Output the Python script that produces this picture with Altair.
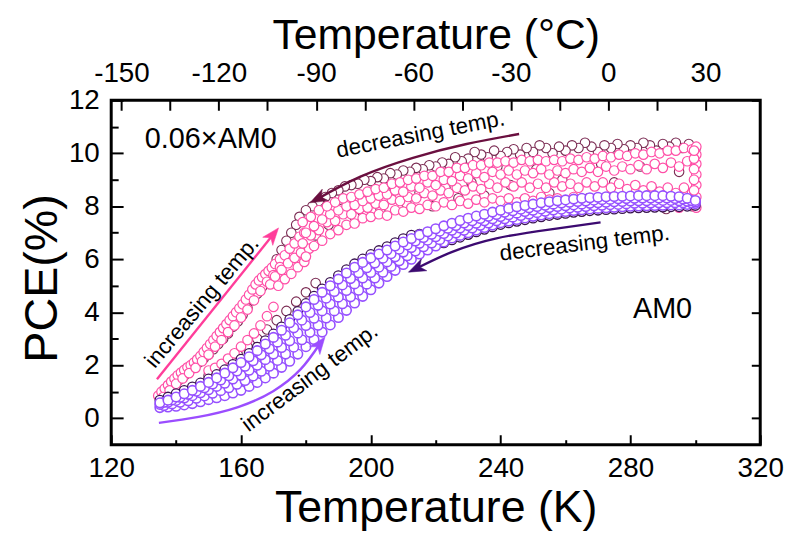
import altair as alt
import pandas as pd

# ---------------- data ----------------
# AM0 sweep (temperature grid, K)
AM0_T = [135.0, 137.5, 140.0, 142.5, 145.0, 147.5, 150.0, 152.5, 155.0, 157.5,
         160.0, 162.5, 165.0, 167.5, 170.0, 172.5, 175.0, 177.5, 180.0, 182.5,
         185.0, 187.5, 190.0, 192.5, 195.0, 197.5, 200.0, 202.5, 205.0, 207.5,
         210.0, 212.5, 215.0, 217.5, 220.0, 222.5, 225.0, 227.5, 230.0, 232.5,
         235.0, 237.5, 240.0, 242.5, 245.0, 247.5, 250.0, 252.5, 255.0, 257.5,
         260.0, 262.5, 265.0, 267.5, 270.0, 272.5, 275.0, 277.5, 280.0, 282.5,
         285.0, 287.5, 290.0, 292.5, 295.0, 297.5, 300.0]
AM0_T2 = [136.25, 138.75, 141.25, 143.75, 146.25, 148.75, 151.25, 153.75, 156.25, 158.75,
          161.25, 163.75, 166.25, 168.75, 171.25, 173.75, 176.25, 178.75, 181.25, 183.75,
          186.25, 188.75, 191.25, 193.75, 196.25, 198.75, 201.25, 203.75, 206.25, 208.75,
          211.25, 213.75, 216.25, 218.75, 221.25, 223.75, 226.25, 228.75, 231.25, 233.75,
          236.25, 238.75, 241.25, 243.75, 246.25, 248.75, 251.25, 253.75, 256.25, 258.75,
          261.25, 263.75, 266.25, 268.75, 271.25, 273.75, 276.25, 278.75, 281.25, 283.75,
          286.25, 288.75, 291.25, 293.75, 296.25, 298.75]
# AM0, increasing temperature (violet) - several passes
AM0_inc_a = [0.40, 0.42, 0.45, 0.50, 0.55, 0.62, 0.70, 0.77, 0.85, 0.95, 1.05, 1.20, 1.35, 1.52,
             1.70, 1.92, 2.15, 2.42, 2.70, 2.97, 3.25, 3.52, 3.80, 4.07, 4.35, 4.60, 4.85, 5.10,
             5.35, 5.58, 5.80, 6.00, 6.20, 6.35, 6.50, 6.65, 6.80, 6.90, 7.00, 7.10, 7.20, 7.29,
             7.38, 7.44, 7.50, 7.56, 7.62, 7.67, 7.72, 7.76, 7.80, 7.84, 7.87, 7.90, 7.92, 7.94,
             7.96, 7.98, 8.00, 8.01, 8.02, 8.03, 8.04, 8.05, 8.05, 8.07, 8.10]
AM0_inc_b = [0.52, 0.60, 0.67, 0.76, 0.85, 0.96, 1.07, 1.20, 1.32, 1.48, 1.62, 1.81, 2.00, 2.21,
             2.42, 2.67, 2.92, 3.21, 3.50, 3.77, 4.05, 4.31, 4.57, 4.82, 5.07, 5.29, 5.50, 5.70,
             5.90, 6.09, 6.27, 6.44, 6.60, 6.72, 6.85, 6.97, 7.09, 7.18, 7.27, 7.36, 7.45, 7.53,
             7.61, 7.68, 7.74, 7.80, 7.85, 7.90, 7.95, 7.99, 8.02, 8.05, 8.08, 8.11, 8.13, 8.15,
             8.17, 8.18, 8.20, 8.21, 8.21, 8.22, 8.22, 8.22, 8.21, 8.19, 8.16]
AM0_inc_c = [0.58, 0.68, 0.80, 0.92, 1.05, 1.20, 1.35, 1.52, 1.70, 1.90, 2.10, 2.32, 2.55, 2.80,
             3.05, 3.32, 3.60, 3.90, 4.20, 4.48, 4.75, 5.00, 5.25, 5.48, 5.70, 5.88, 6.05, 6.20,
             6.35, 6.50, 6.65, 6.78, 6.92, 7.04, 7.15, 7.26, 7.36, 7.46, 7.55, 7.63, 7.70, 7.78,
             7.85, 7.92, 7.98, 8.03, 8.08, 8.13, 8.17, 8.21, 8.24, 8.27, 8.30, 8.32, 8.34, 8.36,
             8.37, 8.38, 8.39, 8.40, 8.40, 8.40, 8.40, 8.38, 8.36, 8.30, 8.22]
AM0_inc_d = [0.48, 0.54, 0.60, 0.66, 0.75, 0.84, 0.94, 1.04, 1.15, 1.28, 1.42, 1.59, 1.77, 1.96,
             2.18, 2.42, 2.68, 2.96, 3.24, 3.51, 3.78, 4.05, 4.32, 4.58, 4.83, 5.06, 5.29, 5.51,
             5.73, 5.94, 6.13, 6.31, 6.47, 6.61, 6.74, 6.88, 6.99, 7.09, 7.18, 7.28, 7.37, 7.45,
             7.53, 7.59, 7.65, 7.71, 7.76, 7.81, 7.86, 7.89, 7.93, 7.96, 7.99, 8.02, 8.04, 8.06,
             8.07, 8.09, 8.11, 8.11, 8.12, 8.13, 8.13, 8.13, 8.13, 8.13]
AM0_inc_e = [0.60, 0.69, 0.79, 0.90, 1.02, 1.15, 1.29, 1.44, 1.60, 1.78, 1.96, 2.17, 2.39, 2.62,
             2.87, 3.13, 3.41, 3.70, 3.99, 4.26, 4.53, 4.78, 5.03, 5.27, 5.49, 5.68, 5.86, 6.04,
             6.21, 6.38, 6.54, 6.69, 6.82, 6.94, 7.06, 7.17, 7.27, 7.37, 7.45, 7.54, 7.62, 7.69,
             7.77, 7.83, 7.89, 7.94, 7.99, 8.04, 8.08, 8.12, 8.15, 8.18, 8.20, 8.23, 8.25, 8.26,
             8.28, 8.29, 8.30, 8.31, 8.31, 8.31, 8.31, 8.29, 8.27, 8.22]
# AM0, decreasing temperature (dark)
AM0_dec = [0.68, 0.80, 0.93, 1.05, 1.18, 1.33, 1.48, 1.65, 1.83, 2.03, 2.23, 2.45, 2.68, 2.93,
           3.18, 3.45, 3.73, 4.03, 4.33, 4.61, 4.88, 5.13, 5.38, 5.61, 5.83, 6.01, 6.18, 6.33,
           6.48, 6.63, 6.78, 6.91, 6.95, 6.80, 6.62, 6.62, 6.73, 6.83, 6.93, 7.03, 7.13, 7.22,
           7.31, 7.37, 7.43, 7.49, 7.55, 7.60, 7.65, 7.69, 7.73, 7.77, 7.80, 7.83, 7.85, 7.87,
           7.89, 7.91, 7.93, 7.94, 7.95, 7.96, 7.97, 7.98, 7.98, 8.00, 8.03]

# 0.06xAM0, decreasing temperature (maroon)
DEC06_T1 = [300, 298, 296, 294, 292, 290, 288, 286, 284, 282, 280, 278, 276, 274, 272, 270,
            268, 266, 264, 262, 260, 258, 256, 254, 252, 250, 248, 246, 244, 242, 240, 238,
            236, 234, 232, 230, 228, 226, 224, 222, 220, 218, 216, 214, 212, 210, 208, 206,
            204, 202, 200, 198, 196, 194, 192, 190, 188, 186, 184, 182, 180, 178]
DEC06_P1 = [10.15, 10.35, 10.2, 10.4, 10.25, 10.35, 10.1, 10.3, 10.4, 10.2, 10.3, 10.15, 10.35,
            10.2, 10.3, 10.05, 10.25, 10.4, 10.2, 10.3, 10.1, 10.25, 10.0, 10.2, 10.3, 10.05,
            10.2, 9.95, 10.15, 10.05, 9.9, 10.1, 9.85, 9.95, 10.05, 9.8, 9.7, 9.85, 9.6, 9.65,
            9.5, 9.55, 9.4, 9.45, 9.3, 9.35, 9.2, 9.25, 9.05, 9.1, 8.95, 9.0, 8.85, 8.8, 8.75,
            8.6, 8.5, 8.35, 8.2, 8.0, 7.85, 7.6]
DEC06_T2 = [177, 175.5, 174, 172.5, 171, 169.5, 168, 166.5, 165, 163.5, 162, 160.5, 159, 157.5,
            156, 154.5, 153, 151.5, 150, 148.5, 147, 145.5, 144, 142.5, 141, 139.5, 138, 136.5, 135]
DEC06_P2 = [7.3, 7.0, 6.7, 6.35, 6.0, 5.6, 5.25, 4.95, 4.7, 4.45, 4.15, 3.9, 3.65, 3.45, 3.2, 3.0,
            2.8, 2.6, 2.4, 2.25, 2.1, 1.9, 1.75, 1.6, 1.45, 1.3, 1.15, 1.0, 0.85]
DEC06_T3 = [299, 295, 291, 287, 283, 279, 275, 271, 267, 263, 259, 255, 251, 247, 243, 239, 235,
            231, 227, 223, 219, 215, 211, 207, 203, 199, 195, 191, 187, 183]
DEC06_P3 = [8.0, 9.3, 7.9, 8.6, 9.5, 8.1, 8.9, 9.6, 8.3, 8.0, 9.0, 8.5, 9.4, 8.2, 8.8, 9.5, 8.4,
            8.9, 8.3, 8.7, 8.0, 8.5, 8.1, 8.6, 7.9, 8.2, 7.6, 7.9, 7.3, 6.9]
DEC06_T4 = [150, 153, 156, 159, 162, 165, 168, 171, 174, 177, 180, 183]
DEC06_P4 = [1.6, 1.85, 2.1, 2.4, 2.7, 3.0, 3.35, 3.7, 4.05, 4.4, 4.75, 5.1]

# 0.06xAM0, increasing temperature (pink)
INC06_T1 = [134.5, 135.5, 136.5, 137.5, 138.5, 139.5, 140.5, 141.5, 142.5, 143.5, 144.5, 145.5,
            146.5, 147.5, 148.5, 149.5, 150.5, 151.5, 152.5, 153.5, 154.5, 155.5, 156.5, 157.5,
            158.5, 159.5, 160.5, 161.5, 162.5, 163.5, 164.5, 165.5, 166.5, 167.5, 168.5, 169.5,
            170.5, 172.0, 173.5, 175.0, 176.5, 178.0, 179.5]
INC06_P1 = [0.85, 1.0, 1.12, 1.25, 1.38, 1.5, 1.62, 1.72, 1.82, 1.92, 2.0, 2.1, 2.22, 2.35, 2.5,
            2.65, 2.8, 2.95, 3.1, 3.25, 3.4, 3.55, 3.7, 3.85, 4.0, 4.15, 4.3, 4.48, 4.66, 4.86,
            5.05, 5.2, 5.32, 5.44, 5.56, 5.68, 5.82, 6.0, 6.15, 6.4, 6.6, 6.85, 7.0]
INC06_T2 = [136, 138, 140, 142, 144, 146, 148, 150, 152, 154, 156, 158, 160, 162, 164, 166, 168,
            170, 172]
INC06_P2 = [0.8, 1.05, 1.3, 1.5, 1.7, 1.9, 2.15, 2.4, 2.7, 2.95, 3.25, 3.5, 3.8, 4.1, 4.45, 4.8,
            5.15, 5.4, 5.7]
INC06_T3 = [150, 152, 154, 156, 158, 160, 162, 164, 166, 168, 170]
INC06_P3 = [1.8, 1.9, 2.05, 2.25, 2.45, 2.7, 2.95, 3.2, 3.5, 3.85, 4.2]
INC06_T4 = [169, 170.5, 171.5, 172.5, 173.5, 174.5, 175.5, 176.5, 177.5, 178.5, 179.5, 181]
INC06_P4 = [5.05, 5.35, 5.0, 5.6, 5.25, 5.85, 5.45, 6.05, 5.7, 6.25, 5.9, 6.4]
CLOUD_TA = [180.0, 182.5, 185.0, 187.5, 190.0, 192.5, 195.0, 197.5, 200.0, 202.5, 205.0, 207.5,
            210.0, 212.5, 215.0, 217.5, 220.0, 222.5, 225.0, 227.5, 230.0, 232.5, 235.0, 237.5,
            240.0, 242.5, 245.0, 247.5, 250.0, 252.5, 255.0, 257.5, 260.0, 262.5, 265.0, 267.5,
            270.0, 272.5, 275.0, 277.5, 280.0, 282.5, 285.0, 287.5, 290.0, 292.5, 295.0, 297.5,
            300.0]
CLOUD_TB = [179.0, 181.5, 184.0, 186.5, 189.0, 191.5, 194.0, 196.5, 199.0, 201.5, 204.0, 206.5,
            209.0, 211.5, 214.0, 216.5, 219.0, 221.5, 224.0, 226.5, 229.0, 231.5, 234.0, 236.5,
            239.0, 241.5, 244.0, 246.5, 249.0, 251.5, 254.0, 256.5, 259.0, 261.5, 264.0, 266.5,
            269.0, 271.5, 274.0, 276.5, 279.0, 281.5, 284.0, 286.5, 289.0, 291.5, 294.0, 296.5,
            299.0]
INC06_P5 = [6.1, 6.5, 6.7, 6.95, 7.1, 7.3, 7.35, 7.55, 7.6, 7.7, 7.65, 7.85, 7.8, 7.95, 7.9, 8.05,
            8.0, 8.15, 8.05, 8.2, 8.1, 8.25, 8.15, 8.3, 8.2, 8.3, 8.15, 8.3, 8.2, 8.35, 8.25, 8.3,
            8.2, 8.35, 8.25, 8.3, 8.15, 8.3, 8.15, 8.25, 8.1, 8.2, 8.05, 8.15, 8.0, 8.1, 7.95,
            8.05, 8.0]
INC06_P6 = [6.6, 6.9, 7.1, 7.4, 7.45, 7.7, 7.7, 7.9, 7.95, 8.1, 8.05, 8.25, 8.2, 8.35, 8.3, 8.5,
            8.4, 8.6, 8.5, 8.7, 8.6, 8.75, 8.65, 8.85, 8.7, 8.9, 8.75, 8.9, 8.7, 8.85, 8.7, 8.9,
            8.75, 8.85, 8.7, 8.9, 8.75, 8.9, 8.7, 8.85, 8.65, 8.8, 8.6, 8.75, 8.55, 8.7, 8.5,
            8.7, 8.5]
INC06_P7 = [7.0, 7.25, 7.5, 7.7, 7.85, 8.0, 8.05, 8.2, 8.3, 8.4, 8.45, 8.6, 8.55, 8.75, 8.7, 8.9,
            8.8, 9.0, 8.95, 9.15, 9.05, 9.25, 9.1, 9.3, 9.2, 9.35, 9.2, 9.35, 9.25, 9.4, 9.2, 9.35,
            9.25, 9.4, 9.3, 9.45, 9.3, 9.5, 9.35, 9.5, 9.4, 9.55, 9.4, 9.6, 9.45, 9.65, 9.5, 9.7,
            9.55]
INC06_P8 = [7.4, 7.6, 7.85, 8.0, 8.15, 8.3, 8.35, 8.45, 8.55, 8.65, 8.7, 8.85, 8.9, 9.0, 9.05,
            9.15, 9.15, 9.3, 9.3, 9.45, 9.45, 9.55, 9.55, 9.65, 9.65, 9.7, 9.65, 9.75, 9.7, 9.75,
            9.7, 9.75, 9.7, 9.8, 9.75, 9.85, 9.8, 9.9, 9.85, 9.95, 9.9, 10.0, 9.95, 10.05, 10.0,
            10.1, 10.1, 10.2, 10.15]
INC06_T9 = [300.3, 300.3, 300.3, 300.3, 300.3, 300.3, 300.3, 299.6, 299.6, 299.6, 299.6, 299.6, 299.6]
INC06_P9 = [7.95, 8.35, 8.8, 9.2, 9.6, 9.95, 10.25, 8.15, 8.6, 9.0, 9.4, 9.8, 10.1]

SERIES = ["dec06", "inc06", "decAM0", "incAM0"]
SERIES_COLORS = ["#7a2a52", "#ff4fa7", "#3a1450", "#9650ff"]
SERIES_STROKE = {"dec06": 1.1, "inc06": 1.2, "decAM0": 1.3, "incAM0": 1.6}

# ---------------- annotations ----------------
ARROW_PATHS = {
    "dec06": [(245.7, 10.73), (229.5, 10.35), (213.0, 9.83), (196.8, 9.12), (183.6, 8.28)],
    "inc06": [(134.1, 1.47), (169.9, 6.93)],
    "decAM0": [(270.8, 7.39), (255.5, 7.13), (238.7, 6.79), (224.9, 6.27), (214.0, 5.65)],
    "incAM0": [(134.7, -0.18), (146.9, 0.05), (159.1, 0.42), (169.9, 1.02), (178.4, 1.85),
               (184.3, 2.81)],
}
ARROW_STYLE = {
    "dec06": ("#6a0f3f", 242.5),
    "inc06": ("#ff3d9a", 38.8),
    "decAM0": ("#3c0a70", 245.0),
    "incAM0": ("#9b4dff", 36.9),
}
LABELS = [
    ("decreasing temp.", 215.3, 10.71, 349, 22.5),
    ("increasing temp.", 148.0, 4.38, 310, 22.5),
    ("decreasing temp.", 265.9, 6.60, 353, 22.5),
    ("increasing temp.", 181.2, 1.53, 323, 22.5),
    ("0.06×AM0", 150.7, 10.54, 0, 29),
    ("AM0", 289.9, 4.13, 0, 29),
]

BOTTOM_TICKS = [120, 140, 160, 180, 200, 220, 240, 260, 280, 300, 320]
TOP_TICKS_K = [123.15, 138.15, 153.15, 168.15, 183.15, 198.15, 213.15, 228.15, 243.15,
               258.15, 273.15, 288.15, 303.15]
LEFT_TICKS = [0, 1, 2, 3, 4, 5, 6, 7, 8, 9, 10, 11, 12]
RIGHT_TICKS = [0, 2, 4, 6, 8, 10, 12]

# ---------------- build tables ----------------
rows = []
def add(series, ts, ps):
    for t, p in zip(ts, ps):
        rows.append({"T": t, "P": p, "s": series, "sw": SERIES_STROKE[series]})

add("dec06", DEC06_T1, DEC06_P1)
add("dec06", DEC06_T2, DEC06_P2)
add("dec06", DEC06_T3, DEC06_P3)
add("dec06", DEC06_T4, DEC06_P4)
add("inc06", INC06_T1, INC06_P1)
add("inc06", INC06_T2, INC06_P2)
add("inc06", INC06_T3, INC06_P3)
add("inc06", INC06_T4, INC06_P4)
add("inc06", CLOUD_TA, INC06_P5)
add("inc06", CLOUD_TB, INC06_P6)
add("inc06", CLOUD_TA, INC06_P7)
add("inc06", CLOUD_TB, INC06_P8)
add("inc06", INC06_T9, INC06_P9)
add("decAM0", AM0_T, AM0_dec)
add("incAM0", AM0_T, AM0_inc_a)
add("incAM0", AM0_T2, AM0_inc_d)
add("incAM0", AM0_T, AM0_inc_b)
add("incAM0", AM0_T2, AM0_inc_e)
add("incAM0", AM0_T, AM0_inc_c)
pts_df = pd.DataFrame(rows)

FONT = "Liberation Sans"
XS = alt.Scale(domain=[120, 320], nice=False, zero=False)
YS = alt.Scale(domain=[-1, 12], nice=False, zero=False)

common = dict(grid=False, domain=False, labelFont=FONT, titleFont=FONT, labelColor="black",
              titleColor="black", tickColor="black", tickWidth=2, labelFlush=False,
              labelOverlap=False, labelBound=False, titleFontWeight="normal")

x_bottom = alt.Axis(orient="bottom", values=BOTTOM_TICKS,
                    labelExpr="datum.value % 40 == 0 ? datum.label : ''",
                    tickSize={"expr": "datum.value % 40 == 0 ? -10 : -5"},
                    labelFontSize=28, labelBaseline="alphabetic", labelPadding=42,
                    title="Temperature (K)", titleFontSize=45, titleBaseline="alphabetic",
                    titleY=77, **common)
x_top = alt.Axis(orient="top", values=TOP_TICKS_K,
                 labelExpr="round(datum.value - 273.15) % 30 == 0 ? '' + round(datum.value - 273.15) : ''",
                 tickSize={"expr": "-10"},
                 labelFontSize=28, labelBaseline="alphabetic", labelPadding=29,
                 title="Temperature (°C)", titleFontSize=43, titleBaseline="alphabetic",
                 titleY=-52, **common)
y_left = alt.Axis(orient="left", values=LEFT_TICKS,
                  labelExpr="datum.value % 2 == 0 ? datum.label : ''",
                  tickSize={"expr": "datum.value % 2 == 0 ? -12 : -7"},
                  labelFontSize=28, labelPadding=24,
                  title="PCE(%)", titleFontSize=47, titleBaseline="alphabetic",
                  titleAngle=270, titleX=-55, titleY=179, **common)
y_right = alt.Axis(orient="right", values=RIGHT_TICKS, labels=False,
                   tickSize={"expr": "-9"}, title=None, **common)

points = alt.Chart(pts_df).mark_point(
    shape="circle", size=92, fill="white", fillOpacity=1, opacity=1
).encode(
    x=alt.X("T:Q", scale=XS, axis=x_bottom),
    y=alt.Y("P:Q", scale=YS, axis=y_left),
    stroke=alt.Stroke("s:N", scale=alt.Scale(domain=SERIES, range=SERIES_COLORS), legend=None),
    strokeWidth=alt.StrokeWidth("sw:Q", scale=None),
)

axes_layer = alt.Chart(pts_df).mark_point(opacity=0).encode(
    x=alt.X("T:Q", scale=XS, axis=x_top),
    y=alt.Y("P:Q", scale=YS, axis=y_right),
)

layers = [points, axes_layer]

STEALTH = "M0,-1L0.75,1L0,0.45L-0.75,1Z"
for key, path in ARROW_PATHS.items():
    color, ang = ARROW_STYLE[key]
    adf = pd.DataFrame({"T": [p[0] for p in path], "P": [p[1] for p in path],
                        "o": list(range(len(path)))})
    line = alt.Chart(adf).mark_line(color=color, strokeWidth=2.4, interpolate="natural").encode(
        x=alt.X("T:Q", scale=XS, axis=None),
        y=alt.Y("P:Q", scale=YS, axis=None),
        order=alt.Order("o:Q"),
    )
    hdf = pd.DataFrame({"T": [path[-1][0]], "P": [path[-1][1]]})
    head = alt.Chart(hdf).mark_point(shape=STEALTH, filled=True, fill=color, stroke=color,
                                     strokeWidth=0.5, size=300, angle=ang, opacity=1).encode(
        x=alt.X("T:Q", scale=XS, axis=None),
        y=alt.Y("P:Q", scale=YS, axis=None),
    )
    layers += [line, head]

lab_df = pd.DataFrame({"txt": [l[0] for l in LABELS], "T": [l[1] for l in LABELS],
                       "P": [l[2] for l in LABELS], "a": [l[3] for l in LABELS],
                       "fs": [l[4] for l in LABELS]})
texts = alt.Chart(lab_df).mark_text(font=FONT, color="black", align="center",
                                    baseline="middle").encode(
    x=alt.X("T:Q", scale=XS, axis=None),
    y=alt.Y("P:Q", scale=YS, axis=None),
    text="txt:N",
    angle=alt.Angle("a:Q", scale=None),
    size=alt.Size("fs:Q", scale=None),
)
layers.append(texts)

chart = alt.layer(*layers).resolve_scale(x="independent", y="independent").properties(
    width=654, height=347,
    autosize=alt.AutoSizeParams(type="none"),
    padding={"left": 104, "top": 91, "right": 30, "bottom": 89},
    background="white",
).configure_view(stroke="black", strokeWidth=3)

chart.save("out.html", embed_options={"renderer": "svg", "actions": False})
